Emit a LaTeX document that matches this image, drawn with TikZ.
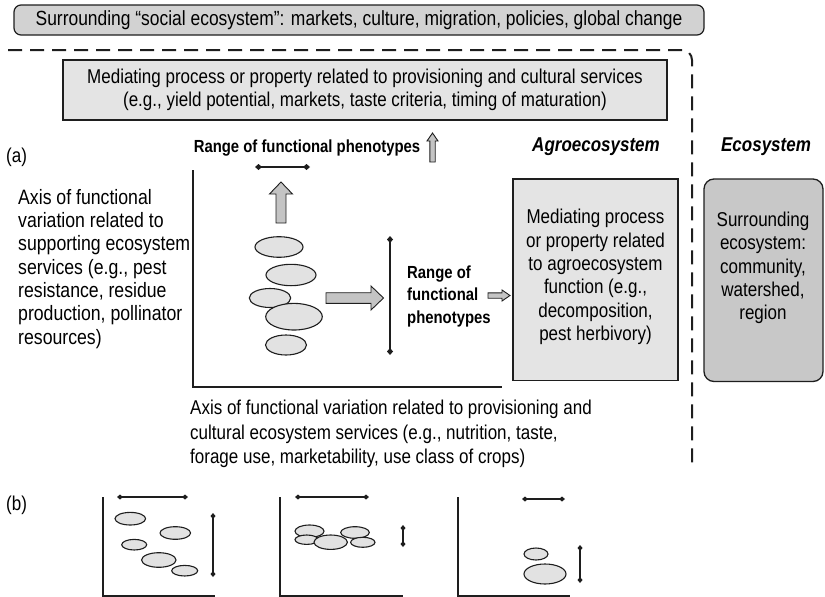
\documentclass[tikz,border=0pt]{standalone}
\usepackage{fontspec}
\setmainfont[FakeStretch=0.85]{Liberation Sans}
\usetikzlibrary{arrows.meta}
\definecolor{outline}{HTML}{1E1E1E}
\definecolor{bannerfill}{HTML}{D2D2D2}
\definecolor{boxfill}{HTML}{E4E4E4}
\definecolor{ecofill}{HTML}{C8C8C8}
\definecolor{arrowfill}{HTML}{C4C4C4}
\definecolor{blobfill}{HTML}{E2E2E2}
\begin{document}
\begin{tikzpicture}[x=1pt,y=-1pt,
  lbl/.style={inner sep=0pt, font=\fontsize{20}{23.3}\selectfont},
  boldlbl/.style={inner sep=0pt, font=\fontsize{17.5}{22.5}\selectfont\bfseries},
  headlbl/.style={inner sep=0pt, font=\fontsize{20}{24}\selectfont\bfseries\itshape},
  banner/.style={draw=outline, fill=bannerfill, rounded corners=7pt, line width=1.2pt,
    minimum width=690pt, minimum height=30pt, inner sep=0pt, font=\fontsize{20.5}{24}\selectfont},
  medbox/.style={draw=outline, fill=boxfill, line width=1.3pt, inner sep=0pt, align=center},
  ecobox/.style={draw=outline, fill=ecofill, line width=1.3pt, rounded corners=10pt, inner sep=0pt},
  dashline/.style={draw=outline, line width=2pt, dash pattern=on 14pt off 8pt, rounded corners=10pt},
  axisline/.style={draw=outline, line width=2.5pt},
  thinaxis/.style={draw=outline, line width=1.4pt},
  rangebar/.style={draw=outline, line width=1.8pt, {Diamond[length=7pt,width=6pt]}-{Diamond[length=7pt,width=6pt]}},
  thinbar/.style={draw=outline, line width=1.5pt, {Diamond[length=6pt,width=5pt]}-{Diamond[length=6pt,width=5pt]}},
  blockarrow/.style={draw=outline, fill=arrowfill, line width=0.9pt, line join=miter},
  blob/.style={draw=outline, fill=blobfill, line width=1.1pt}
]
\useasboundingbox (0,0) rectangle (825,597);

% social ecosystem banner
\node[banner] (social) at (359,20) {Surrounding “social ecosystem”: markets, culture, migration, policies, global change};

% dashed boundary
\draw[dashline] (8,50) -- (692,50) -- (692,470);

% provisioning box
\node[medbox, minimum width=604pt, minimum height=60pt, font=\fontsize{20}{22.5}\selectfont] (prov) at (365,90)
  {Mediating process or property related to provisioning and cultural services\\(e.g., yield potential, markets, taste criteria, timing of maturation)};

% (a) labels
\node[lbl, anchor=west] (alabel) at (6,157) {(a)};
\node[lbl, anchor=north west, align=left, font=\fontsize{20.8}{23.3}\selectfont] (suppaxis) at (18,189)
  {Axis of functional\\variation related to\\supporting ecosystem\\services (e.g., pest\\resistance, residue\\production, pollinator\\resources)};

\node[boldlbl] (rangetop) at (307,148) {Range of functional phenotypes};
\node[headlbl] (agrohead) at (596,147) {Agroecosystem};
\node[headlbl] (ecohead) at (766,147) {Ecosystem};

% main plot
\draw[axisline] (193,170) -- (193,387) -- (502,387);
\draw[rangebar] (255,167) -- (310,167);
\draw[rangebar] (390,236) -- (390,355);

\draw[blob] (279,247) ellipse [x radius=24, y radius=10.3];
\draw[blob] (291,275) ellipse [x radius=25, y radius=10.7];
\draw[blob] (270,298) ellipse [x radius=20.7, y radius=9.5];
\draw[blob] (294,316.7) ellipse [x radius=28.3, y radius=13.3];
\draw[blob] (286,345) ellipse [x radius=20.5, y radius=10];

% block arrows
\filldraw[blockarrow] (276,223) -- (276,194) -- (269.5,194) -- (281,182) -- (292.5,194) -- (286,194) -- (286,223) -- cycle;
\filldraw[blockarrow] (326,292.7) -- (371,292.7) -- (371,286) -- (383.5,298) -- (371,310) -- (371,303.3) -- (326,303.3) -- cycle;
\filldraw[blockarrow] (429.8,162) -- (429.8,141) -- (427,141) -- (432.5,133) -- (438,141) -- (435.2,141) -- (435.2,162) -- cycle;
\filldraw[blockarrow] (488,292.8) -- (502,292.8) -- (502,290) -- (510,295.5) -- (502,301) -- (502,298.2) -- (488,298.2) -- cycle;

\node[boldlbl, anchor=west, align=left] (rangeside) at (407,296) {Range of\\functional\\phenotypes};

% agroecosystem box
\node[medbox, minimum width=165pt, minimum height=201.5pt] (agro) at (595.5,279.75) {};
\node[lbl, align=center] (agrotxt) at (595.5,277)
  {Mediating process\\or property related\\to agroecosystem\\function (e.g.,\\decomposition,\\pest herbivory)};

% ecosystem box
\node[ecobox, minimum width=119pt, minimum height=202.5pt] (eco) at (763.5,280.25) {};
\node[lbl, align=center] (ecotxt) at (763,268)
  {Surrounding\\ecosystem:\\community,\\watershed,\\region};

% bottom axis text
\node[lbl, anchor=north west, align=left, font=\fontsize{20}{24.5}\selectfont] (provaxis) at (190,400)
  {Axis of functional variation related to provisioning and\\cultural ecosystem services (e.g., nutrition, taste,\\forage use, marketability, use class of crops)};

% (b)
\node[lbl, anchor=west] (blabel) at (6,505) {(b)};

% panel 1
\draw[thinaxis] (103,497) -- (103,596) -- (215,596);
\draw[thinbar] (117,497) -- (188,497);
\draw[thinbar] (213,513) -- (213,577);
\draw[blob] (130.3,518.7) ellipse [x radius=15.3, y radius=6.3];
\draw[blob] (175.3,533) ellipse [x radius=15.3, y radius=6.3];
\draw[blob] (134.2,544.7) ellipse [x radius=12.5, y radius=5.3];
\draw[blob] (158.8,560) ellipse [x radius=17.2, y radius=7.3];
\draw[blob] (184.7,570.7) ellipse [x radius=13, y radius=5.3];

% panel 2
\draw[thinaxis] (280,497) -- (280,596) -- (403,596);
\draw[thinbar] (295,497) -- (369,497);
\draw[thinbar] (403,525) -- (403,547);
\draw[blob] (309.5,531.2) ellipse [x radius=14.5, y radius=6.2];
\draw[blob] (355,532.5) ellipse [x radius=14.3, y radius=5.8];
\draw[blob] (306.7,539.7) ellipse [x radius=11.7, y radius=4.7];
\draw[blob] (362.8,542.3) ellipse [x radius=12.2, y radius=5];
\draw[blob] (330.7,542.2) ellipse [x radius=16.7, y radius=7.2];

% panel 3
\draw[thinaxis] (458,497) -- (458,596) -- (570,596);
\draw[thinbar] (522,499) -- (565,499);
\draw[thinbar] (580,545) -- (580,583);
\draw[blob] (536,554) ellipse [x radius=12, y radius=6];
\draw[blob] (545,574) ellipse [x radius=21, y radius=10];
\end{tikzpicture}
\end{document}
